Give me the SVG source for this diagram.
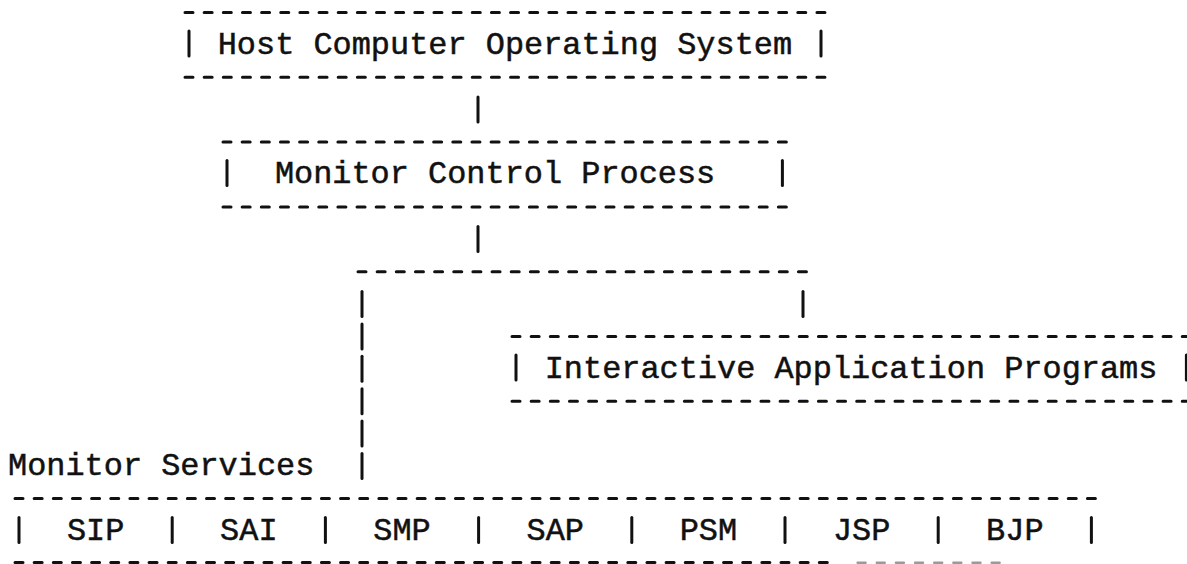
<svg xmlns="http://www.w3.org/2000/svg" width="1187" height="564" viewBox="0 0 1187 564">
  <style>
    .bg { fill: #ffffff; }
    .rule { stroke: #111; stroke-width: 3; stroke-linecap: round; stroke-dasharray: 8 11.15; fill: none; }
    .rule-faint { stroke: #9a9a9a; stroke-width: 2.4; stroke-linecap: round; stroke-dasharray: 8 11.15; fill: none; }
    .bar { stroke: #111; stroke-width: 3; stroke-linecap: round; fill: none; }
    .label { font-family: "Liberation Mono", "DejaVu Sans Mono", monospace; font-size: 31.92px; fill: #111; stroke: #111; stroke-width: 0.5; }
  </style>
  <rect class="bg" x="0" y="0" width="1187" height="564"/>

  <!-- Host computer OS box: 34 columns starting at x=189 -->
  <g id="host-os">
    <line class="rule" x1="185" y1="12.5" x2="825" y2="12.5"/>
    <line class="bar" x1="189" y1="31" x2="189" y2="56"/>
    <text class="label" x="217.7" y="53.7">Host Computer Operating System</text>
    <line class="bar" x1="821" y1="31" x2="821" y2="56"/>
    <line class="rule" x1="185" y1="77.3" x2="825" y2="77.3"/>
  </g>

  <!-- Monitor control process box: 30 columns starting at x=227 -->
  <g id="monitor-control">
    <line class="rule" x1="223" y1="142.1" x2="786.4" y2="142.1"/>
    <line class="bar" x1="227" y1="160.5" x2="227" y2="185.5"/>
    <text class="label" x="274.9" y="183.3">Monitor Control Process</text>
    <line class="bar" x1="782.4" y1="160.5" x2="782.4" y2="185.5"/>
    <line class="rule" x1="223" y1="206.9" x2="786.4" y2="206.9"/>
  </g>

  <!-- Interactive application programs box: runs off the right edge -->
  <g id="interactive-apps">
    <line class="rule" x1="512" y1="336.5" x2="1190.4" y2="336.5"/>
    <line class="bar" x1="516" y1="355" x2="516" y2="380"/>
    <text class="label" x="544.7" y="377.7">Interactive Application Programs</text>
    <line class="bar" x1="1186.4" y1="355" x2="1186.4" y2="380"/>
    <line class="rule" x1="512" y1="401.3" x2="1190.4" y2="401.3"/>
  </g>

  <!-- Monitor services caption and its row of service cells -->
  <g id="monitor-services">
    <text class="label" x="8" y="474.9">Monitor Services</text>
    <line class="rule" x1="15" y1="498.5" x2="1095.4" y2="498.5"/>
    <g id="service-dividers">
      <line class="bar" x1="19" y1="517.5" x2="19" y2="542.5"/>
      <line class="bar" x1="172.2" y1="517.5" x2="172.2" y2="542.5"/>
      <line class="bar" x1="325.4" y1="517.5" x2="325.4" y2="542.5"/>
      <line class="bar" x1="478.6" y1="517.5" x2="478.6" y2="542.5"/>
      <line class="bar" x1="631.8" y1="517.5" x2="631.8" y2="542.5"/>
      <line class="bar" x1="785" y1="517.5" x2="785" y2="542.5"/>
      <line class="bar" x1="938.2" y1="517.5" x2="938.2" y2="542.5"/>
      <line class="bar" x1="1091.4" y1="517.5" x2="1091.4" y2="542.5"/>
    </g>
    <text id="svc-sip" class="label" x="66.9" y="539.7">SIP</text>
    <text id="svc-sai" class="label" x="220.1" y="539.7">SAI</text>
    <text id="svc-smp" class="label" x="373.3" y="539.7">SMP</text>
    <text id="svc-sap" class="label" x="526.5" y="539.7">SAP</text>
    <text id="svc-psm" class="label" x="679.7" y="539.7">PSM</text>
    <text id="svc-jsp" class="label" x="832.9" y="539.7">JSP</text>
    <text id="svc-bjp" class="label" x="986.1" y="539.7">BJP</text>
    <line class="rule" x1="15" y1="562.5" x2="834" y2="562.5"/>
    <line class="rule-faint" x1="857.6" y1="562.8" x2="1000" y2="562.8"/>
  </g>

  <!-- Connectors: drop lines and the branch between the boxes -->
  <g id="connectors">
    <line class="bar" x1="478" y1="97" x2="478" y2="122"/>
    <line class="bar" x1="478" y1="226.5" x2="478" y2="251.5"/>
    <line class="rule" x1="358" y1="271.7" x2="806.5" y2="271.7"/>
    <line class="bar" x1="803" y1="291.5" x2="803" y2="316.5"/>
    <line class="bar" x1="362" y1="291.5" x2="362" y2="316.5"/>
    <line class="bar" x1="362" y1="323.9" x2="362" y2="348.9"/>
    <line class="bar" x1="362" y1="356.3" x2="362" y2="381.3"/>
    <line class="bar" x1="362" y1="388.7" x2="362" y2="413.7"/>
    <line class="bar" x1="362" y1="421.1" x2="362" y2="446.1"/>
    <line class="bar" x1="362" y1="453.5" x2="362" y2="478.5"/>
  </g>
</svg>
